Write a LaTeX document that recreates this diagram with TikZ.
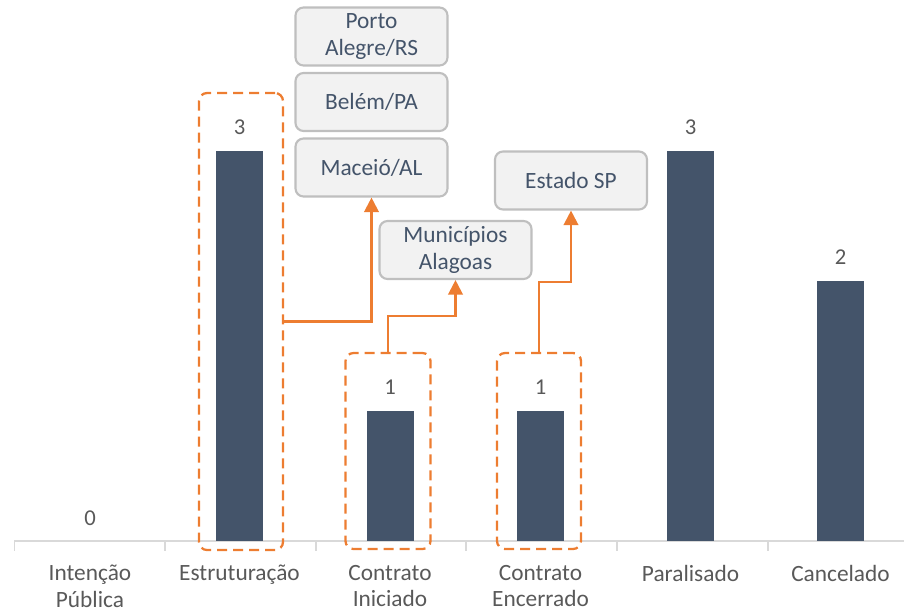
\documentclass[tikz,border=0pt]{standalone}
\usepackage{fontspec}
\setmainfont{Carlito}
\usetikzlibrary{arrows.meta}
\definecolor{barc}{HTML}{44546A}
\definecolor{orng}{HTML}{ED7D31}
\definecolor{lblc}{HTML}{595959}
\definecolor{boxf}{HTML}{F2F2F2}
\definecolor{boxd}{HTML}{BFBFBF}
\definecolor{axc}{HTML}{D9D9D9}
\tikzset{
  bar/.style={fill=barc, draw=none, minimum width=35.25pt, inner sep=0pt, anchor=south},
  val/.style={text=lblc, font=\fontsize{17}{20}\selectfont, inner sep=0pt},
  cat/.style={text=lblc, font=\fontsize{17.5}{19.8}\selectfont, align=center, anchor=north, inner sep=0pt},
  gbox/.style={draw=boxd, line width=1.6pt, fill=boxf, rounded corners=6pt, minimum width=114pt, minimum height=43.5pt, text=barc, font=\fontsize{17.5}{20}\selectfont, align=center, inner sep=0pt},
  hl/.style={draw=orng, line width=1.7pt, dash pattern=on 7.5pt off 4.5pt, rounded corners=6pt, inner sep=0pt},
  arr/.style={draw=orng, line width=1.7pt, -{Triangle[length=11pt,width=11pt]}},
  axis/.style={draw=axc, line width=1pt},
}
\begin{document}
\begin{tikzpicture}[x=0.75pt,y=-0.75pt]
\useasboundingbox (0,0) rectangle (904,612);
% axis
\coordinate (ax0) at (14,541);
\coordinate (ax1) at (904,541);
\draw[axis] (ax0) -- (ax1);
\foreach \t in {14.5,165,316,466,617,768} \draw[axis] (\t,541) -- (\t,551);
% bars
\node[bar, minimum height=292.5pt] (b2) at (239.5,541) {};
\node[bar, minimum height=97.5pt] (b3) at (390,541) {};
\node[bar, minimum height=97.5pt] (b4) at (540.5,541) {};
\node[bar, minimum height=292.5pt] (b5) at (690.5,541) {};
\node[bar, minimum height=195pt] (b6) at (840.5,541) {};
% values
\node[val] (v1) at (90,518) {0};
\node[val] (v2) at (239.5,127) {3};
\node[val] (v3) at (390,387) {1};
\node[val] (v4) at (540.5,387) {1};
\node[val] (v5) at (690.5,127) {3};
\node[val] (v6) at (840.5,257) {2};
% categories
\node[cat] (c1) at (90,565) {Intenção\\Pública};
\node[cat] (c2) at (239.5,565) {Estruturação};
\node[cat] (c3) at (390,565) {Contrato\\Iniciado};
\node[cat] (c4) at (540.5,565) {Contrato\\Encerrado};
\node[cat] (c5) at (690.5,565) {Paralisado};
\node[cat] (c6) at (840.5,565) {Cancelado};
% highlight boxes
\node[hl, minimum width=63pt, minimum height=342.75pt] (hE) at (241,321.5) {};
\node[hl, minimum width=63.75pt, minimum height=147pt] (hI) at (388,451) {};
\node[hl, minimum width=63pt, minimum height=147pt] (hC) at (539,451) {};
% gray boxes
\node[gbox] (porto) at (371.5,36.5) {Porto\\Alegre/RS};
\node[gbox] (belem) at (371.5,102) {Belém/PA};
\node[gbox] (maceio) at (371.5,167.5) {Maceió/AL};
\node[gbox] (munic) at (455.5,250) {Municípios\\Alagoas};
\node[gbox] (estado) at (571,180.5) {Estado SP};
% arrows
\draw[arr] (hE.east) -| (maceio.south);
\draw[arr] (hI.north) -- ++(0,-36) -| (munic.south);
\draw[arr] (hC.north) -- ++(0,-70) -| (estado.south);
\end{tikzpicture}
\end{document}
